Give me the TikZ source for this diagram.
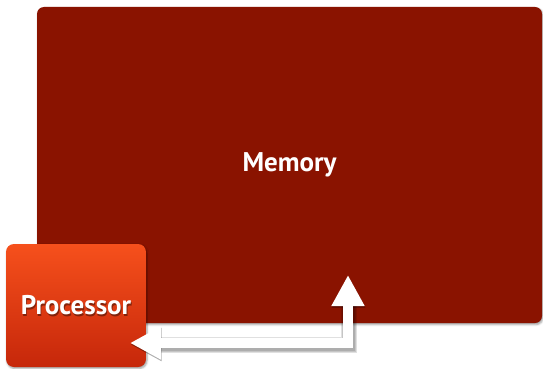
\documentclass[tikz,border=0pt]{standalone}
\usepackage{fontspec}
\setmainfont{PT Sans}
\usetikzlibrary{arrows.meta,shadows.blur}
\definecolor{memred}{HTML}{8A1300}
\definecolor{proctop}{HTML}{F6501C}
\definecolor{procbot}{HTML}{C6270A}
\tikzset{
  memorybox/.style={fill=memred, rounded corners=7pt, minimum width=505pt, minimum height=316pt, inner sep=0pt,
    blur shadow={shadow xshift=1pt, shadow yshift=-1.5pt, shadow blur steps=4, shadow opacity=40}},
  procbox/.style={top color=proctop, bottom color=procbot, rounded corners=8pt, minimum width=140pt, minimum height=123pt, inner sep=0pt,
    blur shadow={shadow xshift=1pt, shadow yshift=-1.5pt, shadow blur steps=4, shadow opacity=40}},
  lbl/.style={text=white, font=\fontsize{27}{31}\selectfont\bfseries},
  flowshadow/.style={draw=black, opacity=0.12, {Triangle[width=31pt,length=31pt]}-{Triangle[width=31pt,length=31pt]}},
  flow/.style={draw=white, line width=10pt, {Triangle[width=31pt,length=31pt]}-{Triangle[width=31pt,length=31pt]}}
}
\begin{document}
\begin{tikzpicture}[x=1pt,y=-1pt]
\useasboundingbox (0,0) rectangle (543,369);
\node[memorybox] (memory) at (289.5,165) {};
\node[lbl] at (memory.center) {Memory};
\node[procbox] (processor) at (76,305.5) {};
\node[lbl, text=black, opacity=0.4] at ([xshift=0.8pt,yshift=-1.2pt]processor.center) {Processor};
\node[lbl] (ptext) at (processor.center) {Processor};
\coordinate (pin) at (130,343);
\coordinate (corner) at (348,343);
\coordinate (min) at (348,275);
\foreach \w in {16,14,12}{
  \draw[flowshadow, line width=\w pt, transform canvas={xshift=0.5pt,yshift=-1.5pt}] (pin) -- (corner) -- (min);
}
\draw[flow] (pin) -- (corner) -- (min);
\end{tikzpicture}
\end{document}
